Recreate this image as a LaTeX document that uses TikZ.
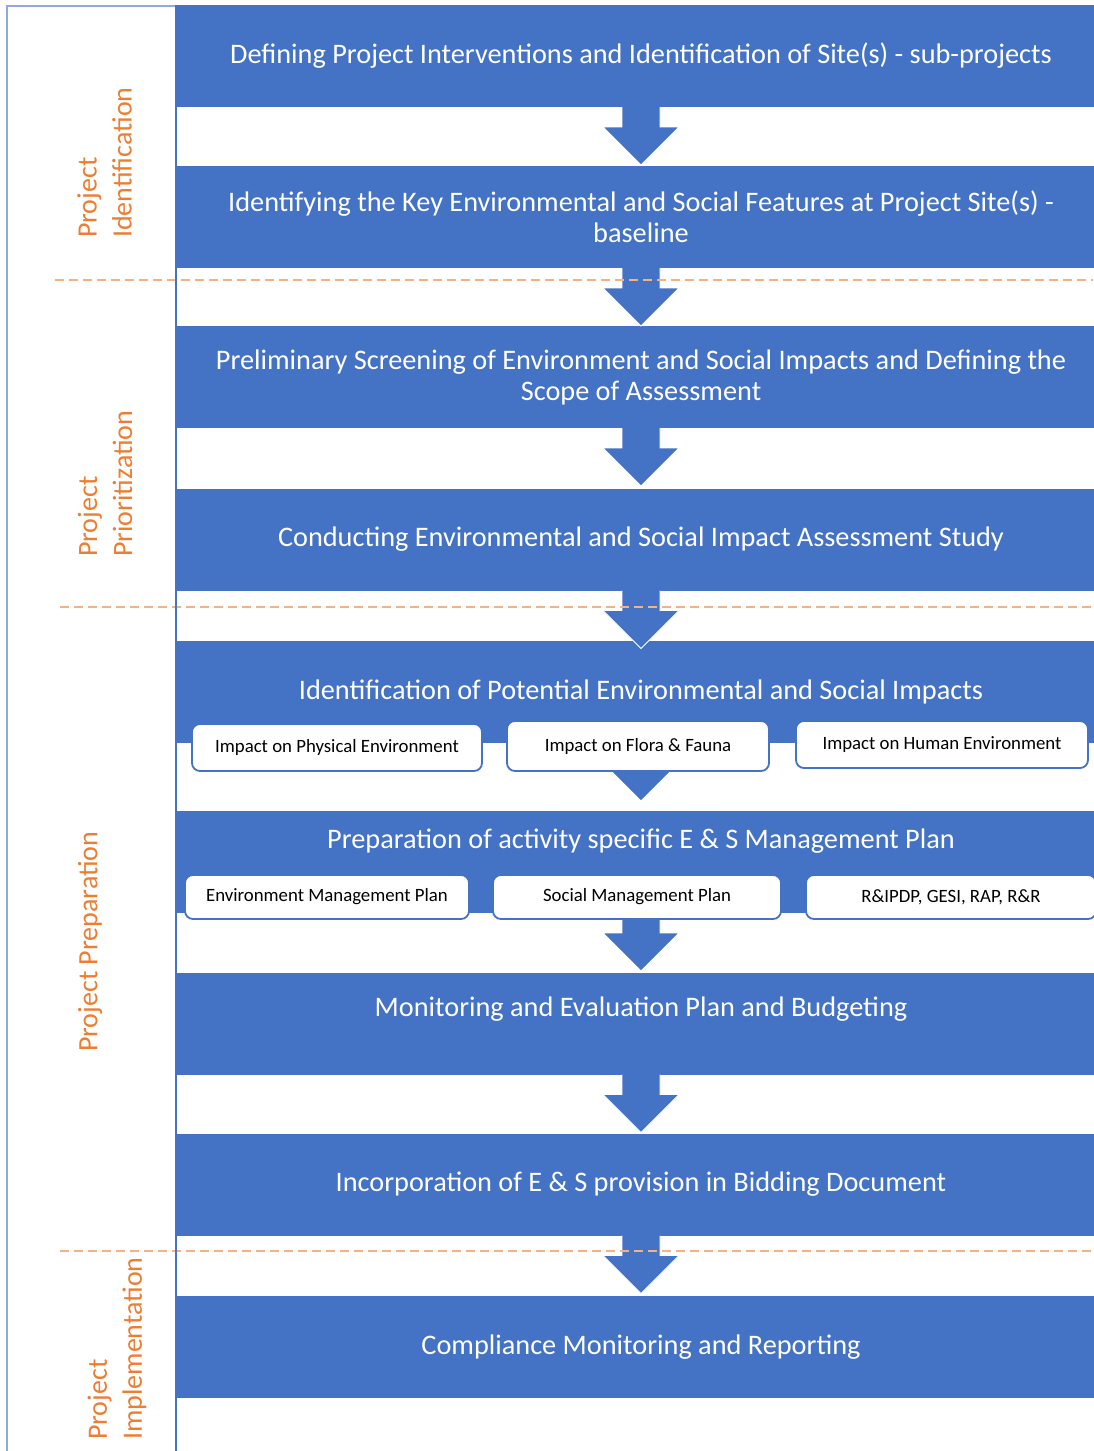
\documentclass[tikz,border=0pt]{standalone}
\usepackage{fontspec}
\setmainfont{Carlito}
\usetikzlibrary{calc}
\definecolor{boxblue}{HTML}{4472C4}
\definecolor{phaseorange}{HTML}{ED7D31}
\definecolor{dashorange}{HTML}{F4B183}
\definecolor{framelight}{HTML}{8FAADC}

\newcommand{\flowarrow}[1]{%
  \filldraw[arrowshape] (#1.south) ++(19,0) -- ++(0,20) -- ++(19,0) -- ++(-38,38) -- ++(-38,-38) -- ++(19,0) -- ++(0,-20);
}

\begin{document}
\begin{tikzpicture}[x=1pt, y=-1pt,
  stepbox/.style={fill=boxblue, minimum width=928pt, minimum height=102pt, inner sep=0pt, outer sep=0pt, text=white, align=center, font=\fontsize{28.3}{31}\selectfont},
  titletext/.style={text=white, inner sep=0pt, font=\fontsize{28.3}{31}\selectfont},
  subbox/.style={draw=boxblue, line width=1.8pt, fill=white, rounded corners=8pt, inner sep=0pt, font=\fontsize{18.8}{22}\selectfont},
  phase/.style={rotate=90, text=phaseorange, align=left, inner sep=0pt, font=\fontsize{28}{35}\selectfont},
  phaseline/.style={dashorange, line width=1.5pt, dash pattern=on 9pt off 5pt},
  arrowshape/.style={fill=boxblue, draw=white, line width=0.8pt, line join=miter}]
  \useasboundingbox (0,0) rectangle (1093,1451);
  \node[stepbox] (b1) at (641,56) {Defining Project Interventions and Identification of Site(s) - sub-projects};
  \node[stepbox] (b2) at (641,217) {Identifying the Key Environmental and Social Features at Project Site(s) -\\baseline};
  \node[stepbox] (b3) at (641,377) {Preliminary Screening of Environment and Social Impacts and Defining the\\Scope of Assessment};
  \node[stepbox] (b4) at (641,539.5) {Conducting Environmental and Social Impact Assessment Study};
  \node[stepbox] (b5) at (641,692) {Identification of Potential Environmental and Social Impacts};
  \node[stepbox] (b6) at (641,862) {};
  \node[titletext] (t6) at (641,841) {Preparation of activity specific E \& S Management Plan};
  \node[stepbox] (b7) at (641,1023.5) {};
  \node[titletext] (t7) at (641,1009) {Monitoring and Evaluation Plan and Budgeting};
  \node[stepbox] (b8) at (641,1184.5) {Incorporation of E \& S provision in Bidding Document};
  \node[stepbox] (b9) at (641,1347) {Compliance Monitoring and Reporting};
  \foreach \s in {b1,b2,b3,b4,b5,b6,b7,b8} {
    \flowarrow{\s}
  }
  \node[subbox, minimum width=290pt, minimum height=47pt] (p1) at (337,747.5) {Impact on Physical Environment};
  \node[subbox, minimum width=262pt, minimum height=50pt] (p2) at (638,746) {Impact on Flora \& Fauna};
  \node[subbox, minimum width=292pt, minimum height=47pt] (p3) at (942,744.5) {Impact on Human Environment};
  \node[subbox, minimum width=284pt, minimum height=44pt] (m1) at (327,897) {Environment Management Plan};
  \node[subbox, minimum width=288pt, minimum height=44pt] (m2) at (637,897) {Social Management Plan};
  \node[subbox, minimum width=290pt, minimum height=44pt] (m3) at (951,897) {R\&IPDP, GESI, RAP, R\&R};
  \draw[phaseline] (55,280) -- (1093,280);
  \draw[phaseline] (60,607) -- (1093,607);
  \draw[phaseline] (60,1251) -- (1093,1251);
  \draw[framelight, line width=1.5pt] (7,1451) -- (7,6) -- (176,6);
  \draw[boxblue, line width=2.5pt] (176,5) -- (176,1451);
  \node[phase, anchor=west] (ph1) at (104.5,238) {Project\\Identification};
  \node[phase, anchor=west] (ph2) at (105,557) {Project\\Prioritization};
  \node[phase, anchor=west] (ph3) at (90,1052) {Project Preparation};
  \node[phase, anchor=west] (ph4) at (117,1440) {Project\\Implementation};
\end{tikzpicture}
\end{document}
